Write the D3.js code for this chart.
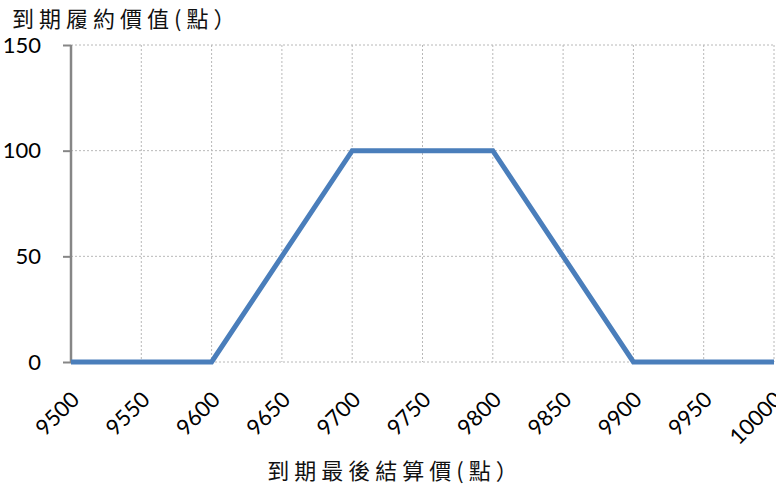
<!doctype html>
<html>
<head>
<meta charset="utf-8">
<style>
    body { margin: 0; background: #fff; }
    svg { display: block; }
    text.tick { font-family: Lato, 'Open Sans', sans-serif; font-size: 22px; fill: #000; }
    text.title { font-family: 'Noto Sans CJK TC', sans-serif; font-size: 22px; font-weight: 400; fill: #111; letter-spacing: 5px; }
    .grid line { stroke: #b8b8b8; stroke-width: 1; stroke-dasharray: 2 2; }
</style>
<script src="https://cdn.jsdelivr.net/npm/d3@7"></script>
</head>
<body>
<svg width="776" height="484"></svg>
<script>
const settle = [9500, 9600, 9700, 9800, 9900, 10000];
const payoff = [0, 0, 100, 100, 0, 0];
const xTicks = [9500, 9550, 9600, 9650, 9700, 9750, 9800, 9850, 9900, 9950, 10000];
const yTicks = [0, 50, 100, 150];

const svg = d3.select('svg');

const x = d3.scaleLinear().domain([9500, 10000]).range([71, 774]);
const y = d3.scaleLinear().domain([0, 150]).range([362, 45]);

// grid
const grid = svg.append('g').attr('class', 'grid');
grid.selectAll('line.v')
    .data(xTicks.slice(1))
    .enter().append('line')
    .attr('x1', d => x(d)).attr('x2', d => x(d))
    .attr('y1', y(150)).attr('y2', y(0));
grid.selectAll('line.h')
    .data(yTicks)
    .enter().append('line')
    .attr('x1', x(9500)).attr('x2', x(10000))
    .attr('y1', d => y(d)).attr('y2', d => y(d));

// left axis
const yAxis = svg.append('g')
    .attr('transform', `translate(${x(9500)},0)`)
    .call(d3.axisLeft(y).tickValues(yTicks).tickSize(8).tickPadding(22));
yAxis.select('.domain').attr('stroke', '#868686').attr('stroke-width', 2.5)
    .attr('d', `M0,${y(150)}V${y(0)}`);
yAxis.selectAll('.tick line').attr('stroke', '#868686').attr('stroke-width', 2);
yAxis.selectAll('.tick text').attr('class', 'tick').attr('font-size', null).attr('font-family', null);

// x tick labels, rotated
svg.append('g').selectAll('text')
    .data(xTicks)
    .enter().append('text')
    .attr('class', 'tick')
    .attr('text-anchor', 'end')
    .attr('transform', d => `translate(${x(d) - 1},${y(0) + 28}) rotate(-45)`)
    .attr('dy', '0.7em')
    .text(d => d);

// payoff line
const line = d3.line().x((d, i) => x(settle[i])).y(d => y(d));
svg.append('path')
    .datum(payoff)
    .attr('fill', 'none')
    .attr('stroke', '#4a7ebb')
    .attr('stroke-width', 5)
    .attr('stroke-linejoin', 'miter')
    .attr('d', line);

// titles
svg.append('text').attr('class', 'title')
    .attr('x', 12).attr('y', 27)
    .text('到期履約價值(點）');
svg.append('text').attr('class', 'title')
    .attr('x', 395).attr('y', 479)
    .attr('text-anchor', 'middle')
    .text('到期最後結算價(點）');
</script>
</body>
</html>
